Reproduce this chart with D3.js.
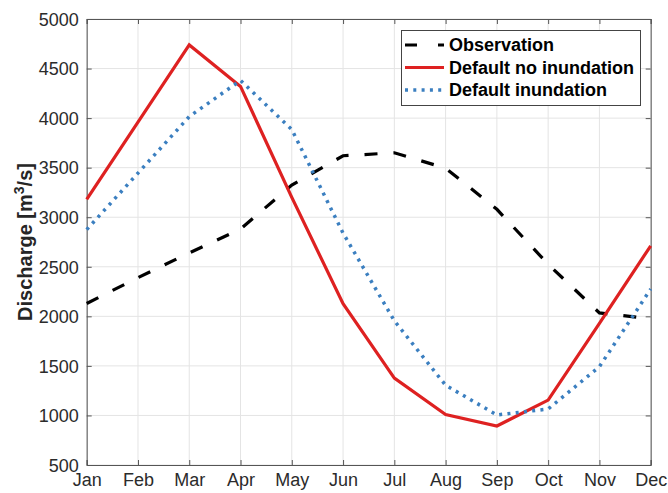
<!DOCTYPE html>
<html><head><meta charset="utf-8">
<script src="https://cdn.jsdelivr.net/npm/d3@7"></script>
<style>
body{margin:0;background:#fff;}
svg{display:block;font-family:"Liberation Sans",Arial,Helvetica,sans-serif;}
</style></head>
<body><svg id="chart" width="668" height="493"></svg>
<script>
const months = ["Jan","Feb","Mar","Apr","May","Jun","Jul","Aug","Sep","Oct","Nov","Dec"];
const observation = [2130,2390,2640,2880,3325,3620,3650,3495,3080,2525,2035,1975];
const defaultNoInundation = [3180,3960,4738,4320,3200,2128,1377,1010,893,1155,1930,2712];
const defaultInundation = [2875,3445,4015,4380,3885,2840,1955,1305,1005,1065,1492,2275];
const yTicks = [500,1000,1500,2000,2500,3000,3500,4000,4500,5000];
const seriesNames = ["Observation","Default no inundation","Default inundation"];

const svg = d3.select("#chart");
const L = 86.7, R = 650.7, T = 19, B = 465;
const x = d3.scalePoint().domain(months).range([L, R]);
const y = d3.scaleLinear().domain([500, 5000]).range([B, T]);

// grid
const g = svg.append("g");
g.selectAll(".vg").data(months).join("line")
  .attr("x1", d => x(d)).attr("x2", d => x(d)).attr("y1", T).attr("y2", B)
  .attr("stroke", "#e4e4e4").attr("stroke-width", 1);
g.selectAll(".hg").data(yTicks).join("line")
  .attr("x1", L).attr("x2", R).attr("y1", d => y(d)).attr("y2", d => y(d))
  .attr("stroke", "#e4e4e4").attr("stroke-width", 1);

// axes
const axColor = "#555";
const xAxis = svg.append("g").attr("transform", `translate(0,${B})`)
  .call(d3.axisBottom(x).tickSize(-5).tickPadding(8));
const xAxisTop = svg.append("g").attr("transform", `translate(0,${T})`)
  .call(d3.axisTop(x).tickSize(-5).tickFormat(""));
const yAxis = svg.append("g").attr("transform", `translate(${L},0)`)
  .call(d3.axisLeft(y).tickValues(yTicks).tickSize(-5).tickPadding(8).tickFormat(d3.format("d")));
const yAxisR = svg.append("g").attr("transform", `translate(${R},0)`)
  .call(d3.axisRight(y).tickValues(yTicks).tickSize(-5).tickFormat(""));
[xAxis, xAxisTop, yAxis, yAxisR].forEach(a => {
  a.select(".domain").attr("stroke", axColor).attr("stroke-width", 1);
  a.selectAll(".tick line").attr("stroke", axColor).attr("stroke-width", 1);
  a.selectAll(".tick text").attr("fill", "#2b2b2b").style("font-size", "18px")
   .style("font-family", '"Liberation Sans",Arial,sans-serif');
});
xAxis.selectAll(".tick text").attr("dy", "0.72em");
yAxis.selectAll(".tick text").attr("dy", "0.35em");

// y label
svg.append("text")
  .attr("transform", `translate(32,${(T + B) / 2}) rotate(-90)`)
  .attr("text-anchor", "middle")
  .attr("font-weight", "bold").attr("font-size", "20px").attr("fill", "#262626")
  .html('Discharge [m<tspan dy="-8" font-size="14px">3</tspan><tspan dy="8">/s]</tspan>');

// lines
const line = d3.line().x((d, i) => x(months[i])).y(d => y(d));
const styles = [
  {data: observation, color: "#000000", width: 3.2, dash: "13,16"},
  {data: defaultNoInundation, color: "#de2121", width: 3.2, dash: null},
  {data: defaultInundation, color: "#3b7fc0", width: 3.5, dash: "3,5.3"}
];
styles.forEach(s => {
  svg.append("path").datum(s.data).attr("d", line)
    .attr("fill", "none").attr("stroke", s.color).attr("stroke-width", s.width)
    .attr("stroke-dasharray", s.dash).attr("stroke-linejoin", "miter");
});

// legend
const lg = svg.append("g");
lg.append("rect").attr("x", 401.5).attr("y", 30.5).attr("width", 239).attr("height", 75)
  .attr("fill", "#fff").attr("stroke", "#444").attr("stroke-width", 1);
const rowsY = [45, 67.5, 90];
seriesNames.forEach((n, i) => {
  const s = styles[i];
  lg.append("line").attr("x1", 405).attr("x2", 444).attr("y1", rowsY[i]).attr("y2", rowsY[i])
    .attr("stroke", s.color).attr("stroke-width", s.width)
    .attr("stroke-dasharray", i === 0 ? "12,21" : s.dash);
  lg.append("text").attr("x", 449).attr("y", rowsY[i]).attr("dy", "0.36em")
    .attr("font-weight", "bold").attr("font-size", "18px").attr("fill", "#000").text(n);
});
</script></body></html>
